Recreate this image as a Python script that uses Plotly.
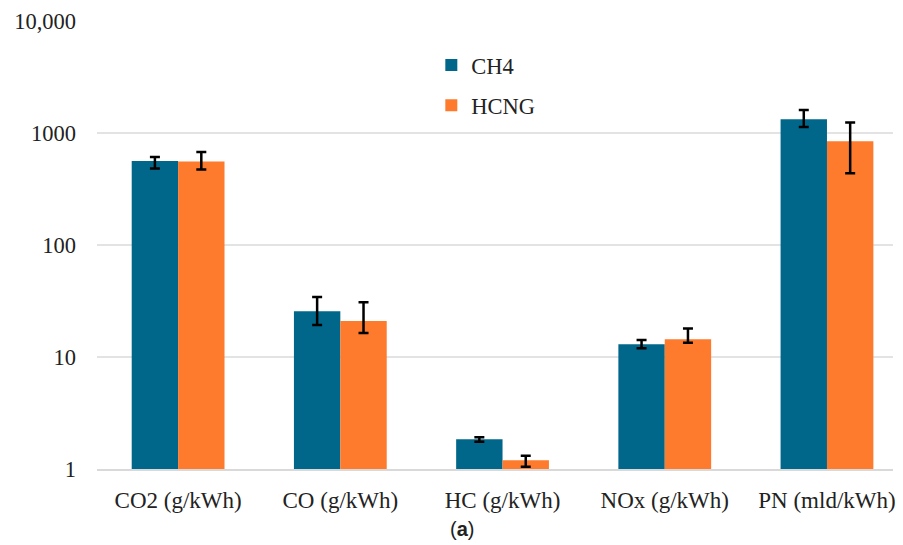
import plotly.graph_objects as go

categories = ["CO2 (g/kWh)", "CO (g/kWh)", "HC (g/kWh)", "NOx (g/kWh)", "PN (mld/kWh)"]
ch4_values = [562, 25.6, 1.84, 13.0, 1325]
ch4_err_plus = [50, 8.7, 0.08, 1.2, 280]
ch4_err_minus = [80, 6.3, 0.09, 1.0, 195]
hcng_values = [556, 21.0, 1.20, 14.4, 844]
hcng_err_plus = [120, 9.8, 0.11, 3.6, 400]
hcng_err_minus = [85, 4.6, 0.15, 1.0, 407]
ytick_vals = [1, 10, 100, 1000, 10000]
ytick_text = ["1", "10", "100", "1000", "10,000"]

font_family = "Liberation Serif, DejaVu Serif"

fig = go.Figure()
fig.add_trace(go.Bar(
    x=categories, y=ch4_values, name="CH4", legendgroup="a",
    marker=dict(color="#00678A", line=dict(width=0)),
    error_y=dict(type="data", symmetric=False, array=ch4_err_plus, arrayminus=ch4_err_minus,
                 color="black", thickness=2.5, width=5),
))
fig.add_trace(go.Bar(
    x=categories, y=hcng_values, name="HCNG", legendgroup="b",
    marker=dict(color="#FE7A2C", line=dict(width=0)),
    error_y=dict(type="data", symmetric=False, array=hcng_err_plus, arrayminus=hcng_err_minus,
                 color="black", thickness=2.5, width=5),
))

fig.update_layout(
    width=903, height=545,
    margin=dict(l=97, r=10, t=21, b=76, autoexpand=False),
    paper_bgcolor="white", plot_bgcolor="white",
    barmode="group", bargap=0.428, bargroupgap=0,
    font=dict(family=font_family, size=22.5, color="#222222"),
    legend=dict(x=0.42, y=0.949, xanchor="left", yanchor="top",
                bgcolor="rgba(0,0,0,0)", tracegroupgap=8,
                font=dict(family=font_family, size=22.5, color="#222222"),
                itemwidth=30),
    showlegend=True,
)
fig.update_xaxes(
    type="category", range=[-0.5, 4.407], automargin=False,
    showgrid=False, showline=True, linecolor="#d9d9d9", linewidth=2,
    ticks="", ticklabelstandoff=9,
    tickfont=dict(family=font_family, size=23, color="#222222"),
)
fig.update_yaxes(
    type="log", range=[0, 4], automargin=False,
    tickvals=ytick_vals, ticktext=ytick_text,
    showgrid=True, gridcolor="#e3e3e3", gridwidth=1.5,
    zeroline=False, showline=False, ticks="",
    ticklabelstandoff=20,
    tickfont=dict(family=font_family, size=22.5, color="#222222"),
)
fig.add_annotation(
    text="(<b>a</b>)", x=0.4585, y=-0.134, xref="paper", yref="paper",
    xanchor="center", yanchor="middle", showarrow=False,
    font=dict(family="Liberation Sans", size=20, color="#222222"),
)
fig.write_html("out.html")
